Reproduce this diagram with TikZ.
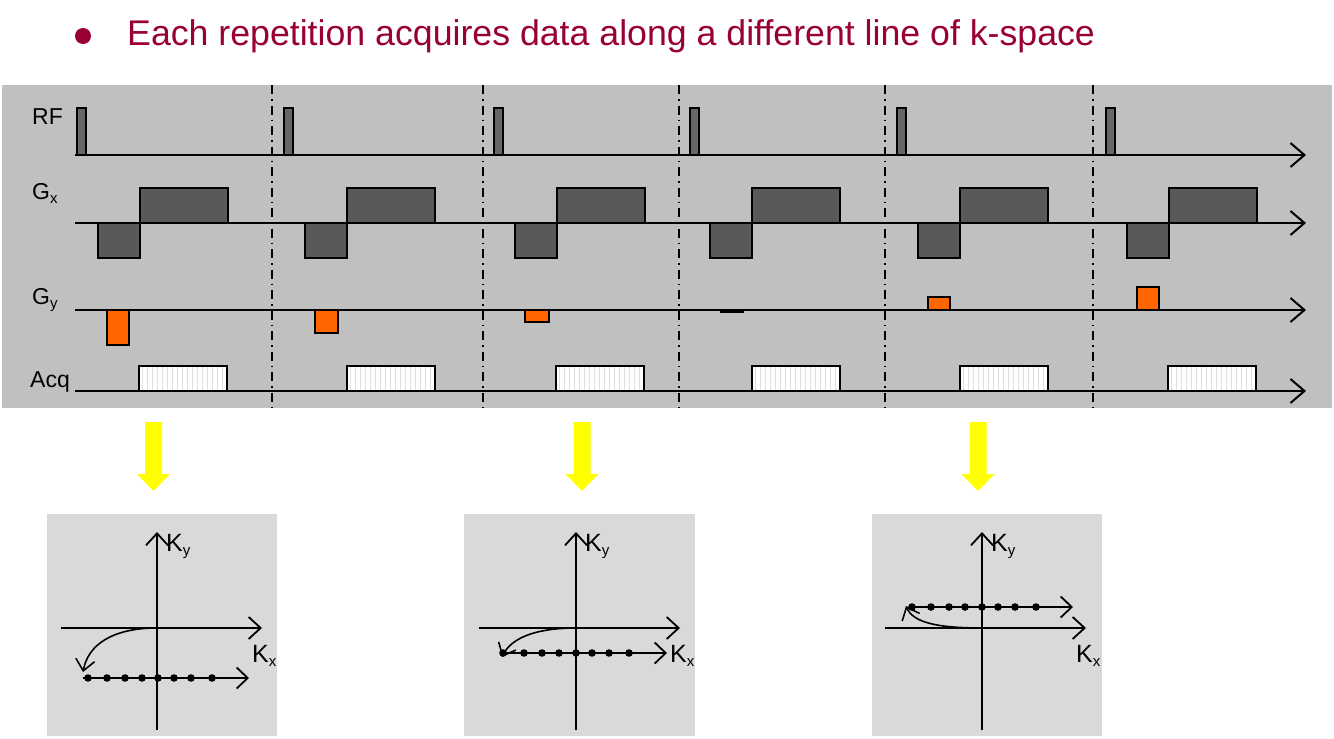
\documentclass[tikz,border=0pt]{standalone}
\usepackage{fontspec}
\setmainfont{Liberation Sans}
\usetikzlibrary{arrows.meta}
\definecolor{titlered}{RGB}{153,0,51}
\definecolor{seqbg}{RGB}{192,192,192}
\definecolor{kbg}{RGB}{217,217,217}
\definecolor{lobe}{RGB}{89,89,89}
\definecolor{rfgrey}{RGB}{102,102,102}
\definecolor{gyor}{RGB}{255,102,0}
\definecolor{stripe}{RGB}{222,222,222}
\definecolor{yarrow}{RGB}{255,255,0}
\tikzset{
  seqaxis/.style={line width=2pt,-{Straight Barb[length=14pt,width=24pt]}},
  kaxis/.style={line width=1.8pt,-{Straight Barb[length=12pt,width=22pt]}},
  dotaxis/.style={line width=1.8pt,-{Straight Barb[length=11pt,width=21pt]}},
  karrow/.style={line width=1.6pt,-{Straight Barb[length=11pt,width=19pt]}},
  rfpulse/.style={fill=rfgrey,draw=black,line width=1.5pt},
  gxlobe/.style={fill=lobe,draw=black,line width=1.8pt},
  gylobe/.style={fill=gyor,draw=black,line width=1.8pt},
  acqbox/.style={draw=black,line width=1.8pt},
  sepline/.style={line width=1.5pt,dash pattern=on 9pt off 5pt on 1.5pt off 5pt},
  seqlabel/.style={anchor=base west,inner sep=0pt,font=\fontsize{23}{23}\selectfont},
  klabel/.style={anchor=base west,inner sep=0pt,font=\fontsize{25}{25}\selectfont},
  kdot/.style={fill=black},
  yellowarrow/.style={fill=yarrow,draw=none}
}
\newcommand{\subtxt}[1]{{\fontsize{15}{15}\selectfont\raisebox{-4pt}{#1}}}
\begin{document}
\begin{tikzpicture}[x=1pt,y=-1pt]
\useasboundingbox (0,0) rectangle (1334,739);
\fill[white] (0,0) rectangle (1334,739);
% title
\fill[titlered] (83,36) circle (8);
\node[anchor=base west,inner sep=0pt,text=titlered,font=\fontsize{35.7}{36}\selectfont] (title) at (127,45) {Each repetition acquires data along a different line of k-space};
% sequence background
\fill[seqbg] (2,85) rectangle (1332,408);
% separators
\foreach \sx [count=\i] in {272,483,679,885,1093}
  \draw[sepline] (\sx,85) -- (\sx,408);
% labels
\node[seqlabel] (rf) at (32,124) {RF};
\node[seqlabel] (gx) at (32,199) {G\subtxt{x}};
\node[seqlabel] (gy) at (32,304) {G\subtxt{y}};
\node[seqlabel] (acq) at (30,387) {Acq};
% pulses and lobes
\foreach \rf/\gn/\ac in {77/98/139, 284/305/347, 494/515/556, 690/710/752, 897/918/960, 1106/1127/1168}{
  \draw[rfpulse] (\rf,108) rectangle (\rf+9,155);
  \draw[gxlobe] (\gn,223) rectangle (\gn+42,258);
  \draw[gxlobe] (\gn+42,188) rectangle (\gn+130,223);
  \fill[white] (\ac,366) rectangle (\ac+88,391);
  \foreach \k in {0,...,17}
    \fill[stripe] (\ac+2.5+\k*5,366) rectangle (\ac+4+\k*5,391);
  \draw[acqbox] (\ac,366) rectangle (\ac+88,391);
}
\foreach \a/\b/\c in {107/129/345, 315/338/333, 525/549/322, 928/950/297, 1137/1159/287}
  \draw[gylobe] (\a,310) rectangle (\b,\c);
\draw[line width=4pt] (720,311) -- (744,311);
% axes
\coordinate (rfs) at (75,155); \coordinate (rfe) at (1306,155);
\coordinate (gxs) at (75,223); \coordinate (gxe) at (1306,223);
\coordinate (gys) at (75,310); \coordinate (gye) at (1306,310);
\coordinate (acs) at (75,391); \coordinate (ace) at (1306,391);
\draw[seqaxis] (rfs) -- (rfe);
\draw[seqaxis] (gxs) -- (gxe);
\draw[seqaxis] (gys) -- (gye);
\draw[seqaxis] (acs) -- (ace);
% yellow arrows
\foreach \dx in {0,428.5,824.5}
  \fill[yellowarrow] (145+\dx,422) -- (162+\dx,422) -- (162+\dx,474) -- (170+\dx,474) -- (153.5+\dx,491) -- (137+\dx,474) -- (145+\dx,474) -- cycle;
% k-space panels
\fill[kbg] (47,514) rectangle (277,736);
\fill[kbg] (464,514) rectangle (695,736);
\fill[kbg] (872,514) rectangle (1102,736);
% panel 1
\coordinate (p1b) at (157,730); \coordinate (p1t) at (157,532);
\coordinate (p1l) at (61,628); \coordinate (p1r) at (262,628);
\coordinate (p1o) at (157,628);
\draw[kaxis] (p1b) -- (p1t);
\draw[kaxis] (p1l) -- (p1r);
\coordinate (p1ds) at (83,678); \coordinate (p1de) at (249,678);
\draw[dotaxis] (p1ds) -- (p1de);
\foreach \px in {88,107,125,142,158,174,191,212} \fill[kdot] (\px,678) circle (3.8);
\draw[karrow] (p1o) .. controls (112,628) and (88,645) .. (83,672);
\node[klabel] (ky1) at (166,551) {K\subtxt{y}};
\node[klabel] (kx1) at (252,662) {K\subtxt{x}};
% panel 2
\coordinate (p2b) at (576,730); \coordinate (p2t) at (576,532);
\coordinate (p2l) at (479,628); \coordinate (p2r) at (680,628);
\coordinate (p2o) at (576,628);
\draw[kaxis] (p2b) -- (p2t);
\draw[kaxis] (p2l) -- (p2r);
\coordinate (p2ds) at (502,653); \coordinate (p2de) at (667,653);
\draw[dotaxis] (p2ds) -- (p2de);
\foreach \px in {503,524,542,559,576,592,609,629} \fill[kdot] (\px,653) circle (3.8);
\draw[karrow] (p2o) .. controls (540,628) and (512,636) .. (502,657);
\node[klabel] (ky2) at (585,551) {K\subtxt{y}};
\node[klabel] (kx2) at (670,662) {K\subtxt{x}};
% panel 3
\coordinate (p3b) at (982,730); \coordinate (p3t) at (982,532);
\coordinate (p3l) at (885,628); \coordinate (p3r) at (1086,628);
\coordinate (p3o) at (982,628);
\draw[kaxis] (p3b) -- (p3t);
\draw[kaxis] (p3l) -- (p3r);
\coordinate (p3ds) at (910,607); \coordinate (p3de) at (1073,607);
\draw[dotaxis] (p3ds) -- (p3de);
\foreach \px in {912,931,949,965,982,998,1015,1036} \fill[kdot] (\px,607) circle (3.8);
\draw[karrow] (p3o) .. controls (935,628) and (913,622) .. (906,606);
\node[klabel] (ky3) at (991,551) {K\subtxt{y}};
\node[klabel] (kx3) at (1076,662) {K\subtxt{x}};
\end{tikzpicture}
\end{document}
